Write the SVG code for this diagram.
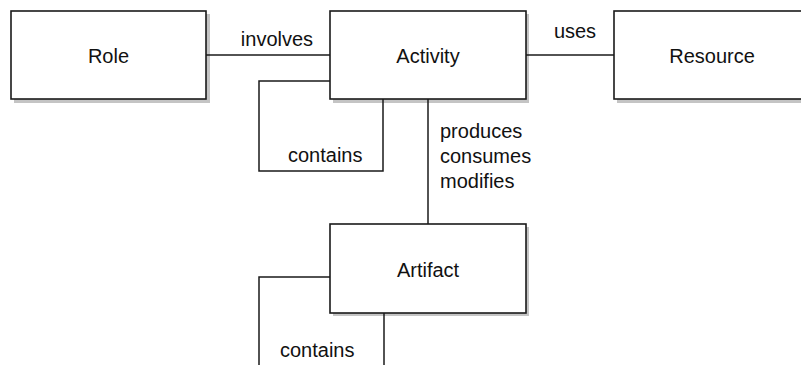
<svg xmlns="http://www.w3.org/2000/svg" width="801" height="365" viewBox="0 0 801 365">
  <style>
    .box { fill: #ffffff; stroke: #1a1a1a; stroke-width: 1.6; }
    .shadow { fill: #c4c4c4; }
    .lbl { font-family: "Liberation Sans", Arial, sans-serif; font-size: 20px; fill: #111111; }
    .mid { text-anchor: middle; }
    .conn { fill: none; stroke: #1a1a1a; stroke-width: 1.5; }
  </style>
  <rect width="801" height="365" fill="#ffffff"/>
  <g id="role">
    <rect class="shadow" x="14" y="14" width="196" height="89"/>
    <rect class="box" x="11" y="11" width="195" height="88"/>
    <text class="lbl mid" x="108.5" y="63">Role</text>
  </g>
  <g id="activity">
    <rect class="shadow" x="333" y="14" width="196" height="89"/>
    <rect class="box" x="330" y="11" width="196" height="88"/>
    <text class="lbl mid" x="428" y="63">Activity</text>
  </g>
  <g id="resource">
    <rect class="shadow" x="617" y="14" width="200" height="89"/>
    <rect class="box" x="614" y="11" width="200" height="88"/>
    <text class="lbl mid" x="712" y="63">Resource</text>
  </g>
  <g id="artifact">
    <rect class="shadow" x="333" y="227" width="196" height="89"/>
    <rect class="box" x="330" y="224" width="196" height="89"/>
    <text class="lbl mid" x="428" y="277">Artifact</text>
  </g>
  <g id="connectors">
    <line class="conn" x1="206" y1="55" x2="330" y2="55"/>
    <text class="lbl mid" x="277" y="46">involves</text>
    <line class="conn" x1="526" y1="55" x2="614" y2="55"/>
    <text class="lbl mid" x="575" y="38">uses</text>
    <polyline class="conn" points="330,81 259,81 259,171 383,171 383,99"/>
    <text class="lbl" x="288" y="162">contains</text>
    <line class="conn" x1="428" y1="99" x2="428" y2="224"/>
    <text class="lbl" x="440" y="138">produces</text>
    <text class="lbl" x="440" y="163">consumes</text>
    <text class="lbl" x="440" y="188">modifies</text>
    <polyline class="conn" points="330,277 259,277 259,366"/>
    <line class="conn" x1="384" y1="313" x2="384" y2="366"/>
    <text class="lbl" x="280" y="357">contains</text>
  </g>
</svg>
